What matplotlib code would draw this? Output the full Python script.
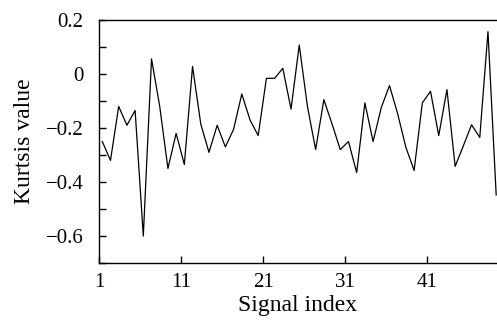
import numpy as np
import matplotlib.pyplot as plt

plt.rcParams['font.family'] = ['Liberation Serif', 'DejaVu Serif']

# kurtosis of each signal
signal_index = np.arange(1, 50)
kurtosis = [-0.25, -0.32, -0.12, -0.19, -0.135, -0.60, 0.056, -0.12, -0.35, -0.22,
            -0.335, 0.028, -0.185, -0.29, -0.19, -0.27, -0.205, -0.074, -0.17, -0.228,
            -0.016, -0.016, 0.021, -0.13, 0.107, -0.12, -0.28, -0.095, -0.185, -0.28,
            -0.25, -0.365, -0.107, -0.25, -0.124, -0.043, -0.148, -0.272, -0.357, -0.107,
            -0.064, -0.228, -0.058, -0.342, -0.266, -0.188, -0.235, 0.157, -0.448]
tick_labels = ['1', '11', '21', '31', '41']
y_major = [-0.6, -0.4, -0.2, 0, 0.2]
y_labels = ['\u22120.6', '\u22120.4', '\u22120.2', '0', '0.2']

fig = plt.figure(figsize=(4.97, 3.25), dpi=100)
ax = fig.add_axes([99 / 497, 62 / 325, 398 / 497, 243 / 325])

ax.plot(signal_index, kurtosis, color='black', linewidth=0.9)

# data sit a little right of the tick marks in the original
shift = 0.4
ax.set_xlim(1 - shift, 49.1)
ax.set_ylim(-0.7, 0.2)
ax.set_xticks(signal_index[::10] - shift)
ax.set_xticklabels(tick_labels)
ax.set_yticks(y_major)
ax.set_yticklabels(y_labels)
ax.set_yticks(np.arange(-0.7, 0.2, 0.2), minor=True)

ax.spines['right'].set_visible(False)
for s in ['left', 'bottom', 'top']:
    ax.spines[s].set_linewidth(1.0)

ax.tick_params(axis='both', which='both', direction='in', length=5, width=1,
               labelsize=15)
ax.tick_params(axis='y', which='both', pad=11)
ax.tick_params(axis='x', pad=7)

ax.set_xlabel('Signal index', fontsize=17, labelpad=2)
ax.set_ylabel('Kurtsis value', fontsize=17, labelpad=8)

fig.savefig('out.png', dpi=100)
